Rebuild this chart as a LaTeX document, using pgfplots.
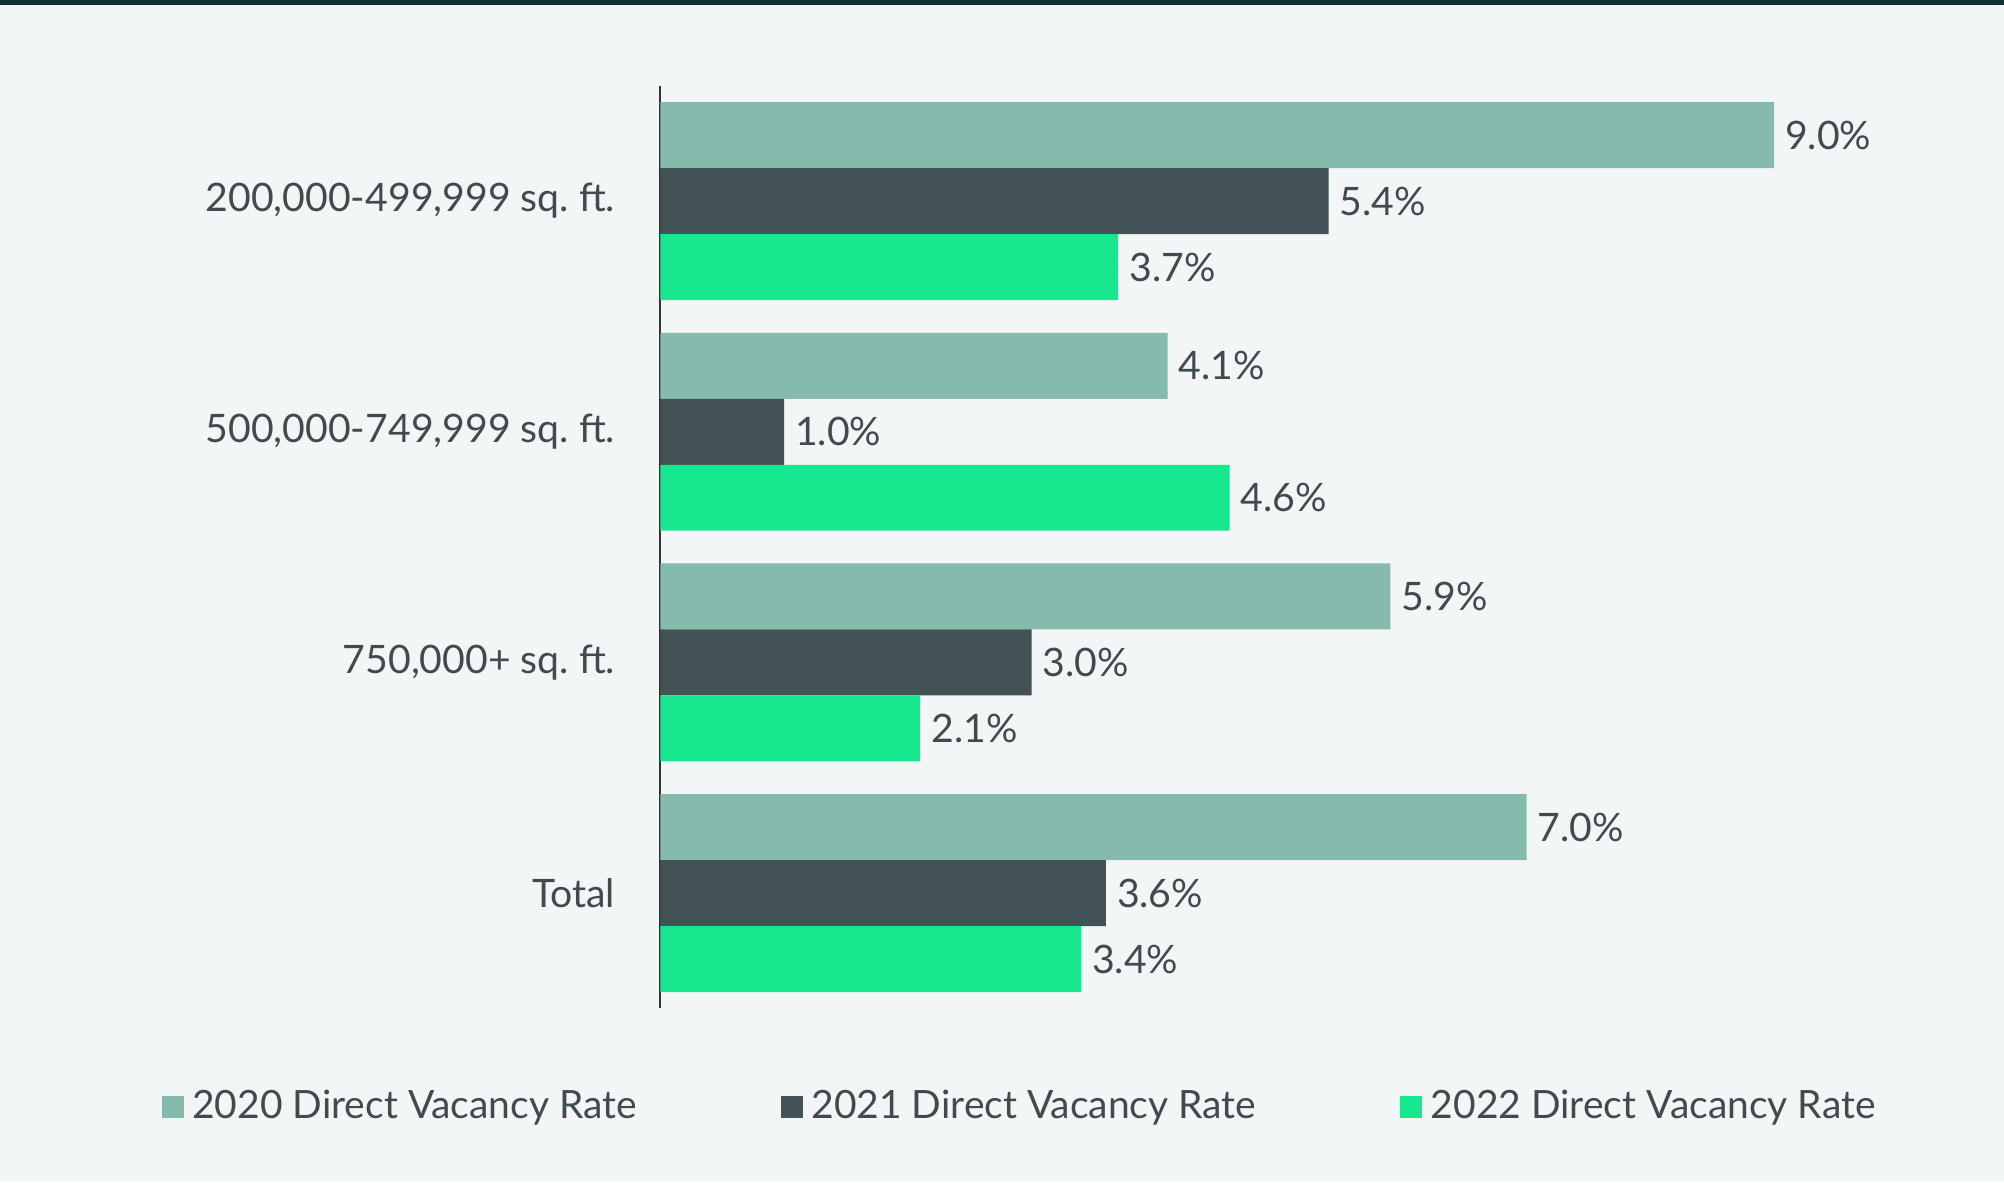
\documentclass[border=0pt]{standalone}
\usepackage{fontspec}
\setmainfont{Lato}
\usepackage{pgfplots}
\pgfplotsset{compat=1.18}

\definecolor{bgcol}{HTML}{F2F6F7}
\definecolor{topline}{HTML}{0F3238}
\definecolor{txt}{HTML}{3F4B4D}
\definecolor{c2020}{HTML}{84BBAD}
\definecolor{c2021}{HTML}{435254}
\definecolor{c2022}{HTML}{17E88F}

\begin{document}
\begin{tikzpicture}
% page is 1566 x 924 "px", 1 px = 0.32pt, origin top left
\fill[bgcol] (0,0) rectangle (501.12pt,-295.6pt);
\fill[topline] (0,0) rectangle (501.12pt,-1.2pt);

\begin{axis}[
	at={(165.12pt,-21.44pt)}, anchor=north west,
	scale only axis,
	width=309.44pt, height=230.72pt,
	xbar, bar width=0.286,
	xmin=0, xmax=10,
	ymin=-0.5, ymax=3.5,
	y dir=reverse,
	axis y line*=left,
	axis x line=none,
	y axis line style={color=black!80, line width=0.5pt},
	ytick={0,1,2,3},
	yticklabels={{200,000-499,999 sq.\ ft.}, {500,000-749,999 sq.\ ft.}, {750,000+ sq.\ ft.}, {Total}},
	ytick style={draw=none},
	yticklabel style={font=\fontsize{9.8}{12}\selectfont, text=txt, xshift=-3.5pt},
	point meta=x,
	nodes near coords={\pgfmathprintnumber[fixed,fixed zerofill,precision=1]{\pgfplotspointmeta}\%},
	every node near coord/.append style={font=\fontsize{9.8}{12}\selectfont, text=txt, anchor=west, inner sep=2.6pt},
	/pgf/number format/assume math mode=true,
	legend columns=3,
	legend image code/.code={\fill[#1] (0pt,-2.72pt) rectangle (5.44pt,2.72pt);},
	legend style={at={(0.2896,-0.107)}, anchor=center, draw=none, fill=none,
		font=\fontsize{9.75}{12}\selectfont, text=txt, inner sep=0pt,
		nodes={inner sep=0pt},
		/tikz/every odd column/.append style={column sep=2.2pt},
		/tikz/every even column/.append style={column sep=36pt}},
]
\addplot[draw=none, fill=c2020, bar shift=-0.286] coordinates {(9.0,0) (4.1,1) (5.9,2) (7.0,3)};
\addlegendentry{2020 Direct Vacancy Rate}
\addplot[draw=none, fill=c2021, bar shift=0] coordinates {(5.4,0) (1.0,1) (3.0,2) (3.6,3)};
\addlegendentry{2021 Direct Vacancy Rate}
\addplot[draw=none, fill=c2022, bar shift=0.286] coordinates {(3.7,0) (4.6,1) (2.1,2) (3.4,3)};
\addlegendentry{2022 Direct Vacancy Rate}
\end{axis}

\pgfresetboundingbox
\path (0,0) rectangle (501.12pt,-295.6pt);
\end{tikzpicture}
\end{document}
